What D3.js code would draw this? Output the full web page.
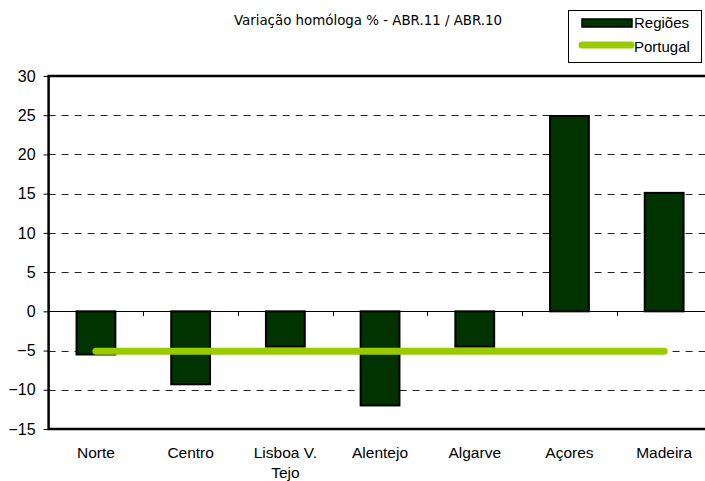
<!DOCTYPE html>
<html>
<head>
<meta charset="utf-8">
<script src="https://cdn.jsdelivr.net/npm/d3@7/dist/d3.min.js"></script>
<style>
  html, body { margin: 0; padding: 0; background: #fff; }
  svg { display: block; }
  .ar { font-family: "Liberation Sans", Arimo, Arial, sans-serif; }
  .cond { font-family: "DejaVu Sans Condensed", "Liberation Sans Narrow", Roboto, sans-serif; }
</style>
</head>
<body>
<svg id="chart" width="705" height="481"></svg>
<script>
// ---- data ----
const categories = ["Norte", "Centro", "Lisboa V. Tejo", "Alentejo", "Algarve", "Açores", "Madeira"];
const regioes = [-5.5, -9.3, -4.5, -12.0, -4.5, 24.9, 15.1];
const portugal = [-5.1, -5.1, -5.1, -5.1, -5.1, -5.1, -5.1];
const yTicks = [30, 25, 20, 15, 10, 5, 0, -5, -10, -15];
const titleText = "Variação homóloga % - ABR.11 / ABR.10";
const legendLabels = ["Regiões", "Portugal"];

(function () {
// ---- layout ----
const svg = d3.select("#chart");
const pLeft = 48.6, bandStep = 94.7;
const pTop = 76, pBottom = 429;
const pRight = pLeft + bandStep * categories.length;

const x = d3.scaleBand().domain(categories).range([pLeft, pRight]).paddingInner(0).paddingOuter(0);
const y = d3.scaleLinear().domain([-15, 30]).range([pBottom, pTop]);

const barW = x.bandwidth() * 0.41;
const cx = d => x(d) + x.bandwidth() / 2;

// gridlines (dashed)
svg.append("g").selectAll("line")
  .data(yTicks.filter(t => t !== 30 && t !== -15 && t !== 0))
  .join("line")
  .attr("x1", pLeft).attr("x2", 705)
  .attr("y1", d => Math.round(y(d)) + 0.5).attr("y2", d => Math.round(y(d)) + 0.5)
  .attr("stroke", "#222").attr("stroke-width", 1)
  .attr("stroke-dasharray", "7,6");

// y axis
const yAxis = d3.axisLeft(y).tickValues(yTicks).tickSize(5).tickPadding(8).tickFormat(d3.format("d"));
const gy = svg.append("g").attr("transform", `translate(${pLeft},0)`).call(yAxis);
gy.attr("font-family", null).attr("font-size", null);
gy.select(".domain").remove();
gy.selectAll(".tick line").attr("stroke", "#000");
gy.selectAll(".tick text")
  .attr("class", "ar")
  .attr("font-size", 16).attr("fill", "#000");

// zero line with ticks
svg.append("line")
  .attr("x1", pLeft).attr("x2", 705)
  .attr("y1", Math.round(y(0)) + 0.5).attr("y2", Math.round(y(0)) + 0.5)
  .attr("stroke", "#000").attr("stroke-width", 1);
svg.append("g").selectAll("line")
  .data(categories.slice(1))
  .join("line")
  .attr("x1", d => Math.round(x(d)) + 0.5).attr("x2", d => Math.round(x(d)) + 0.5)
  .attr("y1", Math.round(y(0))).attr("y2", Math.round(y(0)) + 5)
  .attr("stroke", "#000").attr("stroke-width", 1);

// bars
svg.append("g").selectAll("rect")
  .data(categories.map((c, i) => ({c, v: regioes[i]})))
  .join("rect")
  .attr("x", d => cx(d.c) - barW / 2)
  .attr("width", barW)
  .attr("y", d => y(Math.max(0, d.v)))
  .attr("height", d => Math.abs(y(d.v) - y(0)))
  .attr("fill", "#003300")
  .attr("stroke", "#000").attr("stroke-width", 2);

// Portugal line
const line = d3.line().x((d, i) => cx(categories[i])).y(d => y(d));
svg.append("path")
  .datum(portugal)
  .attr("d", line)
  .attr("fill", "none")
  .attr("stroke", "#99cc00")
  .attr("stroke-width", 7)
  .attr("stroke-linecap", "round");

// plot frame
svg.append("path")
  .attr("d", `M${706},${pTop} H${pLeft} V${pBottom} H${706}`)
  .attr("fill", "none").attr("stroke", "#000").attr("stroke-width", 2.5);

// x labels
const xl = svg.append("g");
categories.forEach(c => {
  const parts = c === "Lisboa V. Tejo" ? ["Lisboa V.", "Tejo"] : [c];
  const t = xl.append("text")
    .attr("class", "ar")
    .attr("x", cx(c)).attr("y", 458)
    .attr("text-anchor", "middle")
    .attr("font-size", 15.5).attr("fill", "#000");
  parts.forEach((p, i) => {
    t.append("tspan").attr("x", cx(c)).attr("dy", i === 0 ? 0 : 20).text(p);
  });
});

// title
svg.append("text")
  .attr("class", "cond")
  .attr("x", 368).attr("y", 25)
  .attr("text-anchor", "middle")
  .attr("font-size", 13.5)
  .attr("textLength", 268).attr("lengthAdjust", "spacingAndGlyphs")
  .attr("fill", "#000")
  .text(titleText);

// legend
const lg = svg.append("g");
lg.append("rect").attr("x", 568.5).attr("y", 10.5).attr("width", 133).attr("height", 52)
  .attr("fill", "#fff").attr("stroke", "#000").attr("stroke-width", 1);
lg.append("rect").attr("x", 582).attr("y", 19).attr("width", 50).attr("height", 8)
  .attr("fill", "#003300").attr("stroke", "#000").attr("stroke-width", 1.5);
lg.append("line").attr("x1", 582).attr("x2", 631).attr("y1", 45).attr("y2", 45)
  .attr("stroke", "#99cc00").attr("stroke-width", 7).attr("stroke-linecap", "round");
lg.selectAll("text.lab").data(legendLabels).join("text")
  .attr("class", "ar")
  .attr("x", 634).attr("y", (d, i) => 28 + i * 24)
  .attr("font-size", 15).attr("fill", "#000")
  .text(d => d);
})();
</script>
</body>
</html>
